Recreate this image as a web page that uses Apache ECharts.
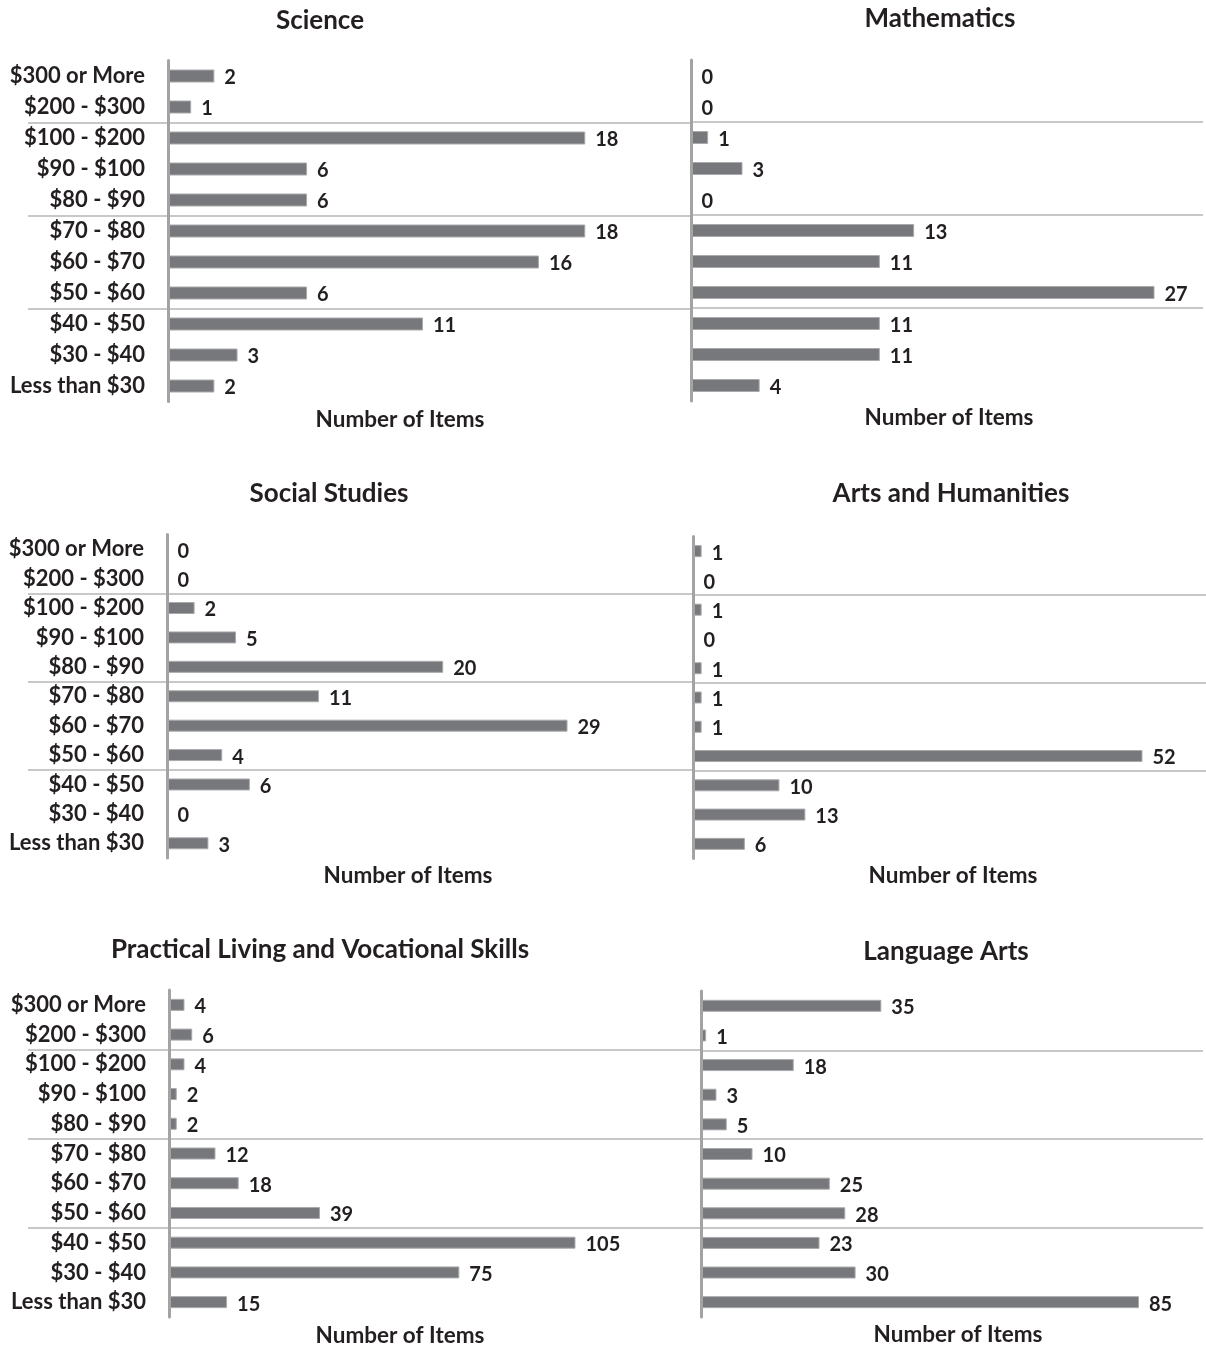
<!DOCTYPE html>
<html>
<head>
<meta charset="utf-8">
<title>Number of Items by Price Range</title>
<script src="https://cdn.jsdelivr.net/npm/echarts@6/dist/echarts.min.js"></script>
<style>
  html, body { margin: 0; padding: 0; background: #ffffff; }
  #chart { width: 1206px; height: 1348px; }
</style>
</head>
<body>
<div id="chart"></div>
<script>
// Price ranges, listed top to bottom
const categories = [
  '$300 or More', '$200 - $300', '$100 - $200', '$90 - $100', '$80 - $90',
  '$70 - $80', '$60 - $70', '$50 - $60', '$40 - $50', '$30 - $40', 'Less than $30'
];

// Number of items per price range, one array per subject
const science        = [2, 1, 18, 6, 6, 18, 16, 6, 11, 3, 2];
const mathematics    = [0, 0, 1, 3, 0, 13, 11, 27, 11, 11, 4];
const socialStudies  = [0, 0, 2, 5, 20, 11, 29, 4, 6, 0, 3];
const artsHumanities = [1, 0, 1, 0, 1, 1, 1, 52, 10, 13, 6];
const practicalSkills = [4, 6, 4, 2, 2, 12, 18, 39, 105, 75, 15];
const languageArts   = [35, 1, 18, 3, 5, 10, 25, 28, 23, 30, 85];

// Category indexes that start a new price band (a rule is drawn above each)
const bandStarts = [2, 5, 8];

const axisTitle = 'Number of Items';

// Panel layout: plot box, value-axis maximum, rule span, title positions
const panels = [
  { name: 'Science', data: science, left: 168, top: 60.5, width: 510, height: 341, max: 22, bar: 13,
    ruleLeft: 28, ruleRight: 690, labels: true, tx: 320, ty: 21, nx: 400, ny: 420 },
  { name: 'Mathematics', data: mathematics, left: 691, top: 60, width: 516, height: 341, max: 30, bar: 13,
    ruleLeft: 690, ruleRight: 1203, labels: false, tx: 940, ty: 19, nx: 949, ny: 418 },
  { name: 'Social Studies', data: socialStudies, left: 167, top: 534.5, width: 511, height: 323.5, max: 37, bar: 12,
    ruleLeft: 28, ruleRight: 692, labels: true, tx: 329, ty: 494, nx: 408, ny: 876 },
  { name: 'Arts and Humanities', data: artsHumanities, left: 693, top: 536.5, width: 510, height: 322, max: 59, bar: 12,
    ruleLeft: 692, ruleRight: 1206, labels: false, tx: 951, ty: 494, nx: 953, ny: 876 },
  { name: 'Practical Living and Vocational Skills', data: practicalSkills, left: 169, top: 990, width: 511, height: 327, max: 132, bar: 12,
    ruleLeft: 28, ruleRight: 701, labels: true, tx: 320, ty: 950, nx: 400, ny: 1336 },
  { name: 'Language Arts', data: languageArts, left: 701, top: 991, width: 505, height: 326, max: 98, bar: 12,
    ruleLeft: 701, ruleRight: 1203, labels: false, tx: 946, ty: 952, nx: 958, ny: 1335 }
];

const FONT = 'Lato, "Open Sans", sans-serif';
const INK = '#231f20';
const BAR = '#77787b';
const RULE = '#c8c8c8';

// One colour per category boundary (11 band edges + the closing edge);
// only the edges that open a new price band are visible.
const ruleColors = [];
for (let k = 0; k <= categories.length; k++) {
  ruleColors.push(bandStarts.indexOf(k) !== -1 ? RULE : 'rgba(0,0,0,0)');
}

const grid = [], xAxis = [], yAxis = [], series = [], title = [];

panels.forEach(function (p, i) {
  const main = i * 2, rule = i * 2 + 1;

  // plot area holding the bars
  grid.push({ left: p.left, top: p.top, width: p.width, height: p.height, containLabel: false });
  // wider area behind it that carries the band rules
  grid.push({ left: p.ruleLeft, top: p.top, width: p.ruleRight - p.ruleLeft, height: p.height, containLabel: false });

  xAxis.push({ gridIndex: main, type: 'value', min: 0, max: p.max, show: false });
  xAxis.push({ gridIndex: rule, type: 'value', min: 0, max: 1, show: false });

  yAxis.push({
    gridIndex: main, type: 'category', data: categories, inverse: true, z: 3,
    axisLine: { show: true, lineStyle: { color: '#a3a3a3', width: 3 } },
    axisTick: { show: false },
    splitLine: { show: false },
    axisLabel: {
      show: p.labels, margin: 23, color: INK, fontFamily: FONT,
      fontWeight: 'bold', fontSize: 22
    }
  });
  yAxis.push({
    gridIndex: rule, type: 'category', data: categories, inverse: true, z: 1,
    axisLine: { show: false }, axisTick: { show: false }, axisLabel: { show: false },
    splitLine: {
      show: true,
      interval: 0,
      lineStyle: { color: ruleColors, width: 2 }
    }
  });

  series.push({
    type: 'bar', name: p.name, xAxisIndex: main, yAxisIndex: main,
    data: p.data, barWidth: p.bar, z: 2,
    itemStyle: { color: BAR, borderColor: '#a9aaac', borderWidth: 1 },
    label: {
      show: true, position: 'right', distance: 10, offset: [0, 2],
      color: INK, fontFamily: FONT, fontWeight: 'bold', fontSize: 20
    }
  });

  title.push({
    text: p.name, left: p.tx, top: p.ty, padding: 0,
    textAlign: 'center', textVerticalAlign: 'middle',
    textStyle: { color: INK, fontFamily: FONT, fontWeight: 'bold', fontSize: 26 }
  });
  title.push({
    text: axisTitle, left: p.nx, top: p.ny, padding: 0,
    textAlign: 'center', textVerticalAlign: 'middle',
    textStyle: { color: INK, fontFamily: FONT, fontWeight: 'bold', fontSize: 22.5 }
  });
});

const chart = echarts.init(document.getElementById('chart'), null, { renderer: 'canvas' });
chart.setOption({
  backgroundColor: '#ffffff',
  animation: false,
  title: title,
  grid: grid,
  xAxis: xAxis,
  yAxis: yAxis,
  series: series
});
</script>
</body>
</html>
